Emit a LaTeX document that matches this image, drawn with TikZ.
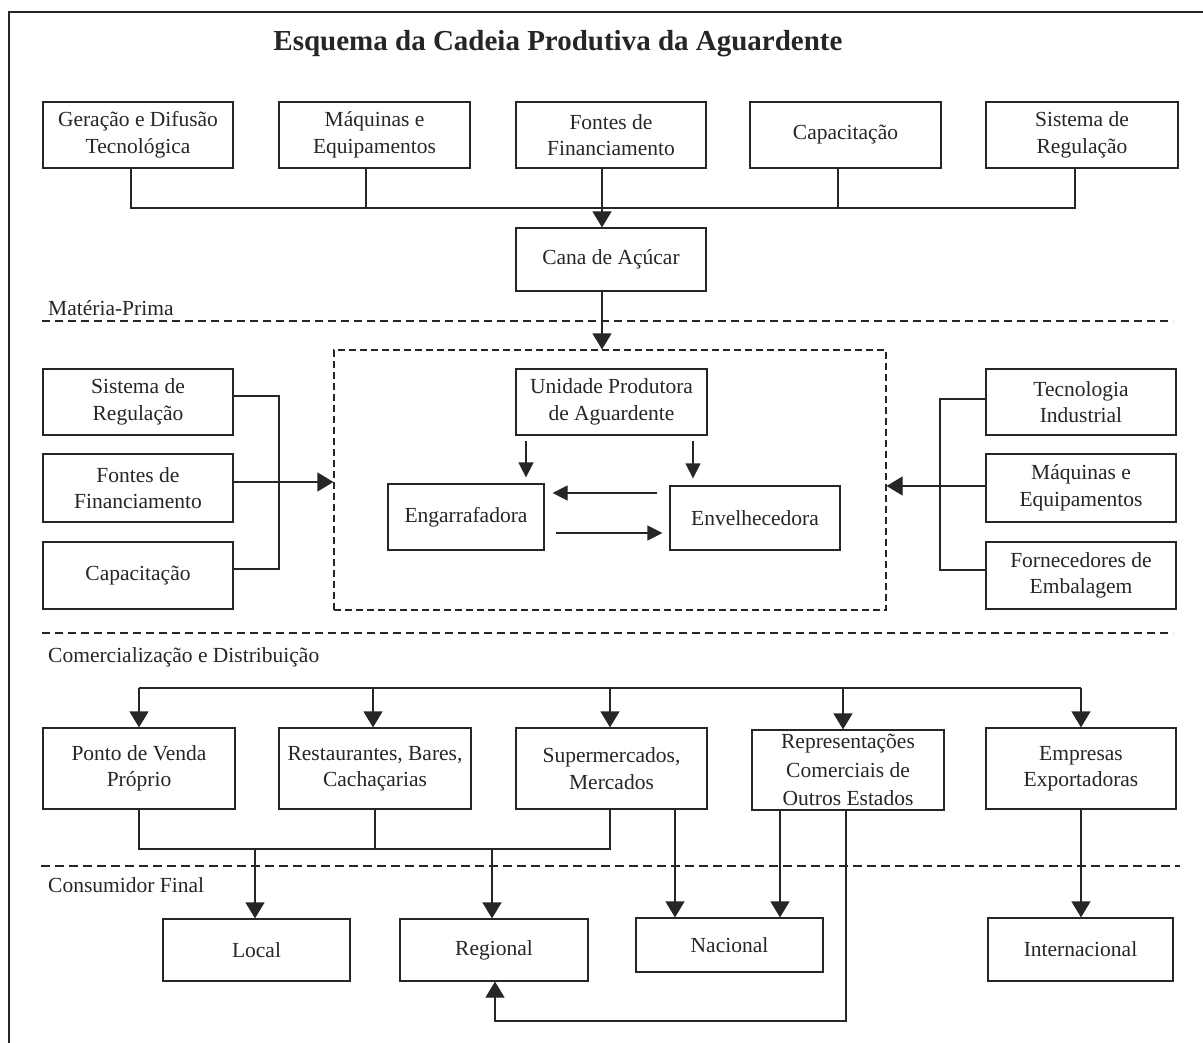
\documentclass[tikz,border=0pt]{standalone}
\usepackage{fontspec}
\setmainfont{Liberation Serif}
\usetikzlibrary{arrows.meta}
\definecolor{ink}{HTML}{262626}
\begin{document}
\begin{tikzpicture}[x=1pt,y=-1pt,
  bx/.style={draw=ink, line width=1.2pt, align=center, inner sep=0pt, text=ink, font=\fontsize{21.5}{26.5}\selectfont},
  ln/.style={draw=ink, line width=1.2pt},
  arr/.style={ln, -{Triangle[length=16pt,width=19pt]}},
  arrs/.style={ln, -{Triangle[length=15pt,width=15pt]}},
  sep/.style={draw=ink, line width=1.2pt, dash pattern=on 8pt off 5pt},
  lbl/.style={anchor=base west, inner sep=0pt, text=ink, font=\fontsize{21.5}{26}\selectfont}]
\useasboundingbox (0,0) rectangle (1203,1043);
\fill[white] (0,0) rectangle (1203,1043);
\draw[ink, line width=1.3pt] (9,1043) -- (9,12) -- (1203,12);
% title
\node[anchor=base, inner sep=0pt, text=ink, font=\bfseries\fontsize{29}{34}\selectfont] (title) at (558,51) {Esquema da Cadeia Produtiva da Aguardente};
% top row
\node[bx, minimum width=190pt, minimum height=66pt] (g1) at (138,135) {Geração e Difusão\\Tecnológica};
\node[bx, minimum width=191pt, minimum height=66pt] (g2) at (374.5,135) {Máquinas e\\Equipamentos};
\node[bx, minimum width=190pt, minimum height=66pt] (g3) at (611,135) {Fontes de\\Financiamento};
\node[bx, minimum width=191pt, minimum height=66pt] (g4) at (845.5,135) {Capacitação};
\node[bx, minimum width=192pt, minimum height=66pt] (g5) at (1082,135) {Sistema de\\Regulação};
\node[bx, minimum width=190pt, minimum height=63pt] (cana) at (611,259.5) {Cana de Açúcar};
\draw[ln] (g1.south -| 131,0) -- (131,208) -- (1075,208) -- (g5.south -| 1075,0);
\draw[ln] (g2.south -| 366,0) -- (366,208);
\draw[ln] (g4.south -| 838,0) -- (838,208);
\draw[arr] (g3.south -| 602,0) -- (cana.north -| 602,0);
% separators and labels
\draw[sep] (42,321) -- (1173,321);
\node[lbl] (l1) at (48,316) {Matéria-Prima};
\draw[sep] (42,633) -- (1173,633);
\node[lbl] (l2) at (48,662) {Comercialização e Distribuição};
\draw[ink, line width=1.6pt, dash pattern=on 9pt off 5pt] (41,866) -- (1180,866);
\node[lbl] (l3) at (48,892) {Consumidor Final};
% production block
\node[draw=ink, line width=1.2pt, dash pattern=on 7pt off 4pt, minimum width=552pt, minimum height=260pt, inner sep=0pt] (prod) at (610,480) {};
\draw[arr] (cana.south -| 602,0) -- (prod.north -| 602,0);
\node[bx, minimum width=191pt, minimum height=66pt] (unid) at (611.5,402) {Unidade Produtora\\de Aguardente};
\node[bx, minimum width=156pt, minimum height=66pt] (eng) at (466,517) {Engarrafadora};
\node[bx, minimum width=170pt, minimum height=64pt] (env) at (755,518) {Envelhecedora};
\draw[arrs, shorten <=5pt, shorten >=6pt] (unid.south -| 526,0) -- (eng.north -| 526,0);
\draw[arrs, shorten <=5pt, shorten >=7pt] (unid.south -| 693,0) -- (env.north -| 693,0);
\draw[arrs, shorten <=12pt, shorten >=8pt] (env.west |- 0,493) -- (eng.east |- 0,493);
\draw[arrs, shorten <=11pt, shorten >=7pt] (eng.east |- 0,533) -- (env.west |- 0,533);
% left group
\node[bx, minimum width=190pt, minimum height=66pt] (lsr) at (138,402) {Sistema de\\Regulação};
\node[bx, minimum width=190pt, minimum height=68pt] (lff) at (138,488) {Fontes de\\Financiamento};
\node[bx, minimum width=190pt, minimum height=67pt] (lcap) at (138,575.5) {Capacitação};
\draw[ln] (lsr.east |- 0,396) -- (279,396) -- (279,569) -- (lcap.east |- 0,569);
\draw[arr] (lff.east |- 0,482) -- (prod.west |- 0,482);
% right group
\node[bx, minimum width=190pt, minimum height=66pt] (rti) at (1081,402) {Tecnologia\\Industrial};
\node[bx, minimum width=190pt, minimum height=68pt] (rme) at (1081,488) {Máquinas e\\Equipamentos};
\node[bx, minimum width=190pt, minimum height=67pt] (rfe) at (1081,575.5) {Fornecedores de\\Embalagem};
\draw[ln] (rti.west |- 0,399) -- (940,399) -- (940,570) -- (rfe.west |- 0,570);
\draw[arr] (rme.west |- 0,486) -- (prod.east |- 0,486);
% commercial row
\node[bx, minimum width=192pt, minimum height=81pt] (c1) at (139,768.5) {Ponto de Venda\\Próprio};
\node[bx, minimum width=192pt, minimum height=81pt] (c2) at (375,768.5) {Restaurantes, Bares,\\Cachaçarias};
\node[bx, minimum width=191pt, minimum height=81pt] (c3) at (611.5,768.5) {Supermercados,\\Mercados};
\node[bx, minimum width=192pt, minimum height=80pt, font=\fontsize{21.5}{28.5}\selectfont] (c4) at (848,770) {Representações\\Comerciais de\\Outros Estados};
\node[bx, minimum width=190pt, minimum height=81pt] (c5) at (1081,768.5) {Empresas\\Exportadoras};
\draw[ln] (c1.north |- 0,688) -- (c5.north |- 0,688);
\draw[arr] (c1.north |- 0,688) -- (c1.north);
\draw[arr] (373,688) -- (c2.north -| 373,0);
\draw[arr] (610,688) -- (c3.north -| 610,0);
\draw[arr] (843,688) -- (c4.north -| 843,0);
\draw[arr] (c5.north |- 0,688) -- (c5.north);
% consumer row
\node[bx, minimum width=187pt, minimum height=62pt] (loc) at (256.5,950) {Local};
\node[bx, minimum width=188pt, minimum height=62pt] (reg) at (494,950) {Regional};
\node[bx, minimum width=187pt, minimum height=54pt] (nac) at (729.5,945) {Nacional};
\node[bx, minimum width=185pt, minimum height=63pt] (int) at (1080.5,949.5) {Internacional};
\draw[ln] (c1.south) -- (c1.south |- 0,849) -- (610,849) -- (c3.south -| 610,0);
\draw[ln] (c2.south) -- (c2.south |- 0,849);
\draw[arr] (255,849) -- (loc.north -| 255,0);
\draw[arr] (492,849) -- (reg.north -| 492,0);
\draw[arr] (c3.south -| 675,0) -- (nac.north -| 675,0);
\draw[arr] (c4.south -| 780,0) -- (nac.north -| 780,0);
\draw[arr] (c4.south -| 846,0) -- (846,1021) -- (495,1021) -- (reg.south -| 495,0);
\draw[arr] (c5.south) -- (int.north -| c5.south);
\end{tikzpicture}
\end{document}
